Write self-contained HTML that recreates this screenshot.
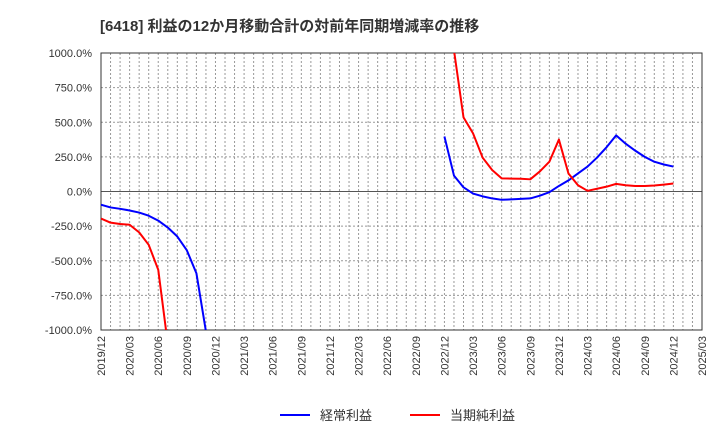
<!DOCTYPE html>
<html><head><meta charset="utf-8"><style>
body{margin:0;background:#fff;font-family:"Liberation Sans","Noto Sans CJK JP",sans-serif}
</style></head><body>
<svg width="720" height="440" xmlns="http://www.w3.org/2000/svg" style="font-family:'Liberation Sans','Noto Sans CJK JP',sans-serif">
<text x="100" y="31" font-size="15" font-weight="bold" fill="#333">[6418]  利益の12か月移動合計の対前年同期増減率の推移</text>
<g id="grid"></g><g id="axes"></g>
<defs><clipPath id="pc"><rect x="101" y="53" width="601" height="277"/></clipPath></defs>
<g id="series" clip-path="url(#pc)"></g>
<g>
<line x1="280" y1="415" x2="310" y2="415" stroke="#0000ff" stroke-width="2"/>
<text x="320" y="420" font-size="13" fill="#333">経常利益</text>
<line x1="410" y1="415" x2="440" y2="415" stroke="#ff0000" stroke-width="2"/>
<text x="450" y="420" font-size="13" fill="#333">当期純利益</text>
</g>
</svg>
<script>
const startLabel=[2019,12];
const yTicks=[1000,750,500,250,0,-250,-500,-750,-1000];
const xTickLabels=["2019/12","2020/03","2020/06","2020/09","2020/12","2021/03","2021/06","2021/09","2021/12","2022/03","2022/06","2022/09","2022/12","2023/03","2023/06","2023/09","2023/12","2024/03","2024/06","2024/09","2024/12","2025/03"];
// monthly values starting 2019/12 (null = no data)
const blue=[-95,-115,-125,-137,-152,-175,-210,-260,-325,-425,-590,-1010,
null,null,null,null,null,null,null,null,null,null,null,null,null,null,null,null,null,null,null,null,null,null,null,null,
397,115,30,-15,-35,-50,-60,-57,-53,-50,-30,-5,40,80,130,180,245,320,405,345,295,250,215,195,180];
const red=[-195,-225,-235,-240,-295,-385,-565,-1100,
null,null,null,null,null,null,null,null,null,null,null,null,null,null,null,null,null,null,null,null,null,null,null,null,null,null,null,null,null,
1020,535,420,245,155,95,93,92,88,145,215,375,130,45,5,20,35,55,45,40,40,43,50,58];
const X0=101,X1=702,Y0=53,Y1=330,months=63;
const x=m=>X0+m*(X1-X0)/months;
const y=v=>Y0+(1000-v)*(Y1-Y0)/2000;
const NS="http://www.w3.org/2000/svg";
function mk(t,a,p){const e=document.createElementNS(NS,t);for(const k in a)e.setAttribute(k,a[k]);p.appendChild(e);return e;}
const grid=document.getElementById('grid'),axes=document.getElementById('axes'),ser=document.getElementById('series');
for(let m=1;m<months;m++){const l=mk('line',{x1:x(m),x2:x(m),y1:Y0,y2:Y1,stroke:'#999','stroke-dasharray':'2,2','stroke-width':1},grid);

}
yTicks.forEach(v=>{const l=mk('line',{x1:X0,x2:X1,y1:y(v),y2:y(v),stroke:v===0?'#555':'#999','stroke-dasharray':v===0?'':'2,2','stroke-width':1},grid);


const t=mk('text',{x:92,y:y(v)+4,'text-anchor':'end','font-size':11,fill:'#333'},axes);


t.textContent=v.toFixed(1)+'%';});
const fr=mk('rect',{x:X0,y:Y0,width:X1-X0,height:Y1-Y0,fill:'none',stroke:'#333','stroke-width':1},axes);


xTickLabels.forEach((s,i)=>{const px=x(i*3);const t=mk('text',{x:0,y:0,transform:`translate(${px+4},${Y1+6}) rotate(-90)`,'text-anchor':'end','font-size':11,fill:'#333'},axes);


t.textContent=s;});
function draw(arr,col,name){let segs=[],cur=[];arr.forEach((v,i)=>{if(v===null){if(cur.length)segs.push(cur);cur=[];}else cur.push(x(i)+','+y(v));});if(cur.length)segs.push(cur);
segs.forEach(s=>{const p=mk('polyline',{points:s.join(' '),fill:'none',stroke:col,'stroke-width':2,'stroke-linejoin':'round'},ser);

});}
draw(blue,'#0000ff','series-keijo-rieki');
draw(red,'#ff0000','series-junri-rieki');
</script>
</body></html>
